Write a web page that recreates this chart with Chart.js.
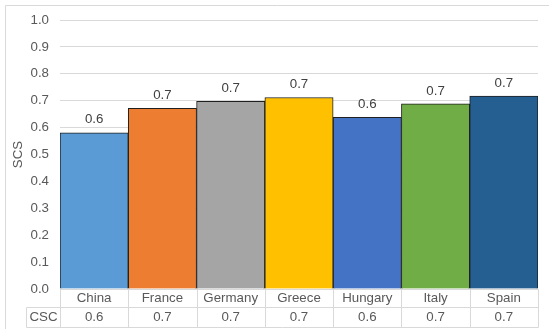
<!DOCTYPE html>
<html>
<head>
  <meta charset="utf-8" />
  <script src="https://cdn.jsdelivr.net/npm/chart.js@4.4.0/dist/chart.umd.min.js"></script>
  <style>
    body { margin:0; background:#fff; }
    #wrap { width:549px; height:329px; }
  </style>
</head>
<body>
<div id="wrap"><canvas id="scsChart" width="549" height="329"></canvas></div>

<script>
const countries = ['China', 'France', 'Germany', 'Greece', 'Hungary', 'Italy', 'Spain'];
const scsValues = [0.581, 0.672, 0.698, 0.712, 0.638, 0.688, 0.717];
const cscValues = ['0.6', '0.7', '0.7', '0.7', '0.6', '0.7', '0.7'];
const barColors = ['#5B9BD5', '#ED7D31', '#A5A5A5', '#FFC000', '#4472C4', '#70AD47', '#255E91'];
const yTicks = [0, 0.1, 0.2, 0.3, 0.4, 0.5, 0.6, 0.7, 0.8, 0.9, 1.0];

const TEXT = '#595959';
const LINE = '#d9d9d9';
const FAMILY = '"Liberation Sans", Arial, sans-serif';
const SIZE = 13.3;
const FONT = SIZE + 'px ' + FAMILY;

// value labels above bars
const barLabels = {
  id: 'barLabels',
  afterDatasetsDraw(chart) {
    const ctx = chart.ctx;
    const meta = chart.getDatasetMeta(0);
    ctx.save();
    ctx.font = FONT;
    ctx.fillStyle = '#404040';
    ctx.textAlign = 'center';
    ctx.textBaseline = 'middle';
    meta.data.forEach((bar, i) => {
      ctx.fillText(scsValues[i].toFixed(1), bar.x, bar.y - 13);
    });
    ctx.restore();
  }
};

// data table grid under the axis + outer frame
const dataTable = {
  id: 'dataTable',
  beforeDraw(chart) {
    const ctx = chart.ctx;
    ctx.save();
    ctx.strokeStyle = LINE;
    ctx.lineWidth = 1;
    ctx.beginPath();
    ctx.moveTo(5.5, chart.height);
    ctx.lineTo(5.5, 5.5);
    ctx.lineTo(chart.width, 5.5);
    ctx.stroke();
    ctx.restore();
  },
  afterDraw(chart) {
    const ctx = chart.ctx;
    const x = chart.scales.x;
    const area = chart.chartArea;
    const top = Math.round(area.bottom) + 0.5;
    const mid = top + 18;
    const bot = top + 38;
    const half = (x.getPixelForValue(1) - x.getPixelForValue(0)) / 2;
    const left = Math.round(x.getPixelForValue(0) - half) + 0.5;
    const right = Math.round(x.getPixelForValue(countries.length - 1) + half) + 0.5;
    const headLeft = 26.5;

    ctx.save();
    ctx.strokeStyle = LINE;
    ctx.lineWidth = 1;
    ctx.beginPath();
    ctx.moveTo(left, top); ctx.lineTo(right, top);
    ctx.moveTo(headLeft, mid); ctx.lineTo(right, mid);
    ctx.moveTo(headLeft, bot); ctx.lineTo(right, bot);
    ctx.moveTo(headLeft, mid); ctx.lineTo(headLeft, bot);
    for (let i = 0; i <= countries.length; i++) {
      const px = Math.round(x.getPixelForValue(i) - half) + 0.5;
      ctx.moveTo(px, top); ctx.lineTo(px, bot);
    }
    ctx.stroke();

    ctx.font = FONT;
    ctx.fillStyle = TEXT;
    ctx.textAlign = 'center';
    ctx.textBaseline = 'middle';
    ctx.fillText('CSC', (headLeft + left) / 2, (mid + bot) / 2);
    ctx.restore();
  }
};

new Chart(document.getElementById('scsChart'), {
  type: 'bar',
  data: {
    labels: countries,
    datasets: [{
      data: scsValues,
      backgroundColor: barColors,
      borderColor: '#1f1f1f',
      borderWidth: 1,
      barPercentage: 1,
      categoryPercentage: 1
    }]
  },
  options: {
    responsive: false,
    animation: false,
    layout: { padding: { top: 20, right: 11, bottom: 2, left: 5 } },
    plugins: { legend: { display: false }, tooltip: { enabled: false } },
    scales: {
      y: {
        min: 0, max: 1,
        afterFit(scale) { scale.width = 55; },
        afterBuildTicks(scale) { scale.ticks = yTicks.map(v => ({ value: v })); },
        ticks: {
          color: TEXT,
          padding: 11,
          font: { family: FAMILY, size: SIZE },
          callback: v => v.toFixed(1)
        },
        grid: { color: LINE, drawTicks: false },
        border: { display: false },
        title: {
          display: true, text: 'SCS', color: TEXT,
          font: { family: FAMILY, size: SIZE },
          padding: { top: 5, bottom: 0 }
        }
      },
      x: {
        afterFit(scale) { scale.height = 38; },
        ticks: {
          color: TEXT,
          padding: 0,
          maxRotation: 0,
          autoSkip: false,
          font: { family: FAMILY, size: SIZE, lineHeight: 19 / SIZE },
          callback: (v, i) => [countries[i], cscValues[i]]
        },
        grid: { display: false, drawTicks: false },
        border: { display: false }
      }
    }
  },
  plugins: [barLabels, dataTable]
});
</script>
</body>
</html>
